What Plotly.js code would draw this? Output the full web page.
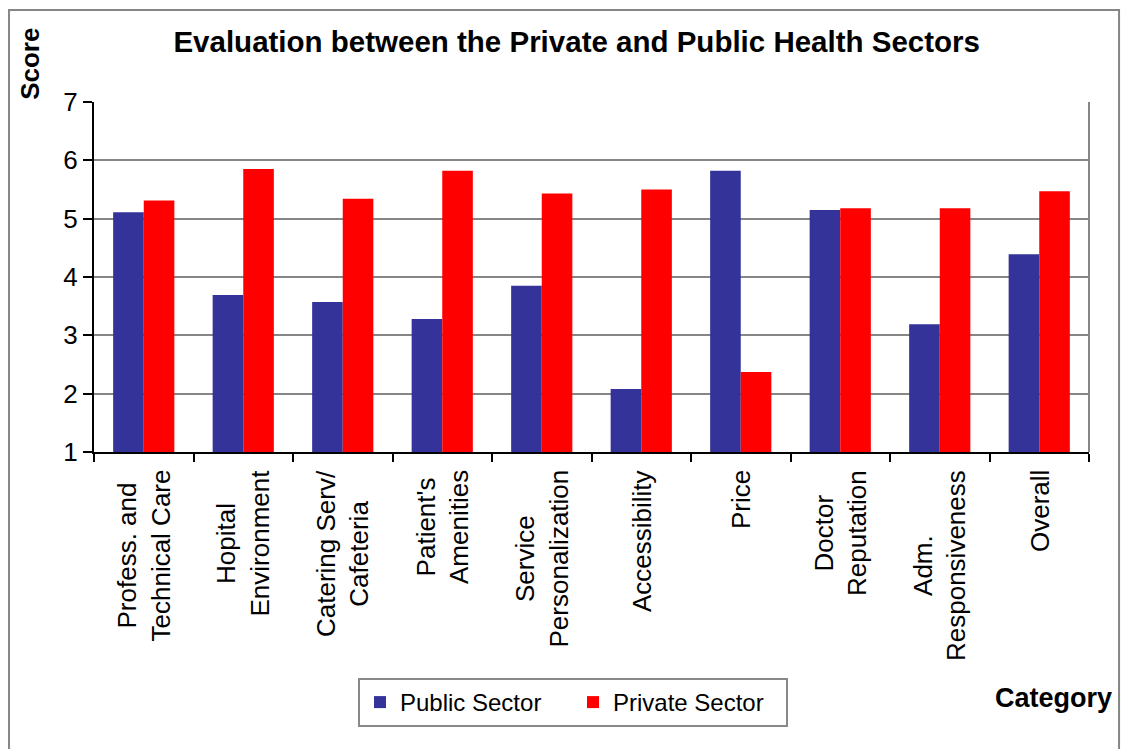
<!DOCTYPE html>
<html>
<head>
<meta charset="utf-8">
<script src="https://cdn.plot.ly/plotly-3.0.1.min.js"></script>
<style>
html,body{margin:0;padding:0;background:#fff;}
#chart{width:1122px;height:749px;}
</style>
</head>
<body>
<div id="chart"></div>
<script>
const categories = ["Profess. and Technical Care", "Hopital Environment", "Catering Serv/ Cafeteria", "Patient's Amenities", "Service Personalization", "Accessibility", "Price", "Doctor Reputation", "Adm. Responsiveness", "Overall"];
const tickLabels = ["Profess. and<br>Technical Care", "Hopital<br>Environment", "Catering Serv/<br>Cafeteria", "Patient's<br>Amenities", "Service<br>Personalization", "Accessibility", "Price", "Doctor<br>Reputation", "Adm.<br>Responsiveness", "Overall"];
const publicSector = [5.11, 3.69, 3.57, 3.28, 3.85, 2.08, 5.82, 5.15, 3.19, 4.39];
const privateSector = [5.31, 5.85, 5.34, 5.82, 5.43, 5.50, 2.37, 5.18, 5.18, 5.47];
const seriesNames = ["Public Sector", "Private Sector"];
const yTicks = [1, 2, 3, 4, 5, 6, 7];

const FONT = "Liberation Sans, Arial, sans-serif";

const traces = [
  {type: "bar", name: seriesNames[0], x: categories, y: publicSector,
   marker: {color: "#333399", line: {width: 0}}},
  {type: "bar", name: seriesNames[1], x: categories, y: privateSector,
   marker: {color: "#FF0000", line: {width: 0}}}
];

const annotations = categories.map((c, i) => ({
  x: c, xref: "x", y: -0.045, yref: "paper",
  text: tickLabels[i], textangle: -90, showarrow: false,
  xanchor: "center", yanchor: "top", align: "center",
  font: {family: FONT, size: 26, color: "#000"}
}));
annotations.push({
  x: -0.064, xref: "paper", y: 1.11, yref: "paper",
  text: "<b>Score</b>", textangle: -90, showarrow: false,
  xanchor: "center", yanchor: "middle",
  font: {family: FONT, size: 26, color: "#000"}
});
annotations.push({
  x: 1.025, xref: "paper", y: -0.703, yref: "paper",
  text: "<b>Category</b>", showarrow: false,
  xanchor: "right", yanchor: "middle",
  font: {family: FONT, size: 27, color: "#000"}
});

const layout = {
  width: 1122, height: 749,
  margin: {l: 94, r: 33, t: 102, b: 297, pad: 0},
  paper_bgcolor: "#fff", plot_bgcolor: "#fff",
  title: {text: "<b>Evaluation between the Private and Public Health Sectors</b>",
          x: 0.514, xanchor: "center", y: 0.945, yanchor: "middle",
          font: {family: FONT, size: 29.5, color: "#000"}},
  barmode: "group", bargap: 0.385, bargroupgap: 0,
  xaxis: {type: "category", showticklabels: false, ticks: "outside", tickson: "boundaries",
          ticklen: 8, tickwidth: 2, tickcolor: "#000",
          showline: true, linecolor: "#000", linewidth: 2, showgrid: false, zeroline: false,
          fixedrange: true},
  yaxis: {range: [1, 7], tickvals: yTicks, ticks: "outside", ticklen: 9, tickwidth: 2, tickcolor: "#000",
          showline: true, linecolor: "#000", linewidth: 2,
          showgrid: true, gridcolor: "#868686", gridwidth: 2, zeroline: false,
          tickfont: {family: FONT, size: 26, color: "#000"}, fixedrange: true},
  showlegend: true,
  legend: {orientation: "h", x: 0.2653, xanchor: "left", y: -0.6457, yanchor: "top",
           bgcolor: "#fff", bordercolor: "#888", borderwidth: 2,
           font: {family: FONT, size: 24, color: "#000"}, entrywidth: 168, traceorder: "normal"},
  annotations: annotations,
  shapes: [
    {type: "line", xref: "paper", yref: "paper", x0: 1, x1: 1, y0: 0, y1: 1,
     line: {color: "#868686", width: 2}},
    {type: "rect", xref: "paper", yref: "paper", x0: -0.0854, x1: 1.0302, y0: -0.87, y1: 1.2629,
     line: {color: "#868686", width: 2}, fillcolor: "rgba(0,0,0,0)"}
  ]
};

Plotly.newPlot("chart", traces, layout, {staticPlot: true, displayModeBar: false});
</script>
</body>
</html>
